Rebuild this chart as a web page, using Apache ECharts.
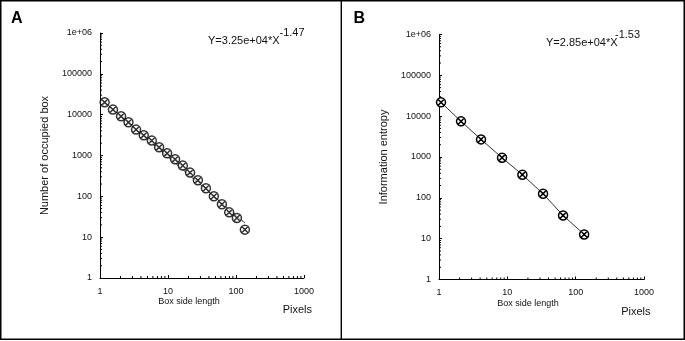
<!DOCTYPE html>
<html>
<head>
<meta charset="utf-8">
<script src="https://cdn.jsdelivr.net/npm/echarts@6/dist/echarts.min.js"></script>
<style>html,body{margin:0;padding:0;background:#fff;}#c{width:685px;height:341px;}</style>
</head>
<body>
<div id="c"></div>
<script>
// ---- data ----
var xA = [1.17, 1.55, 2.04, 2.62, 3.39, 4.40, 5.77, 7.40, 9.7, 12.7, 16.5, 21.1, 27.5, 36.1, 47.2, 62.0, 79.4, 103, 135];
var yA = [20100, 13300, 9140, 6510, 4310, 3125, 2318, 1589, 1132, 807, 565, 381, 247, 157, 100, 63.7, 40.5, 29.6, 15.3];
var fitAx = [1.17, 135];
var fitAy = [20100, 22.3];
var xB = [1.07, 2.1, 4.12, 8.36, 16.6, 33.3, 65.4, 133];
var yB = [21800, 7460, 2700, 961, 368, 126, 37, 12.7];

var xTickValues = [1, 10, 100, 1000];
var xTickLabels = ['1', '10', '100', '1000'];
var yTickValues = [1, 10, 100, 1000, 10000, 100000, 1000000];
var yTickLabels = ['1', '10', '100', '1000', '10000', '100000', '1e+06'];
var xMinorTicks = [2,3,4,5,6,7,8,9,20,30,40,50,60,70,80,90,200,300,400,500,600,700,800,900];
var yMinorTicks = [2,3,4,5,6,7,8,9,20,30,40,50,60,70,80,90,200,300,400,500,600,700,800,900,
  2000,3000,4000,5000,6000,7000,8000,9000,20000,30000,40000,50000,60000,70000,80000,90000,
  200000,300000,400000,500000,600000,700000,800000,900000];

var eqA = ['Y=3.25e+04*X', '-1.47'];
var eqB = ['Y=2.85e+04*X', '-1.53'];
var yTitleA = 'Number of occupied box';
var yTitleB = 'Information entropy';
var xTitle = 'Box side length';
var unitTitle = 'Pixels';

// ---- helpers ----
function pairs(xs, ys) { return xs.map(function (x, i) { return [x, ys[i]]; }); }
function lab(values, labels) {
  return function (v) {
    for (var i = 0; i < values.length; i++) {
      if (Math.abs(Math.log10(v) - Math.log10(values[i])) < 1e-6) return labels[i];
    }
    return '';
  };
}
var FONT = '"Liberation Sans", Arial, sans-serif';
var TXT = '#111';
var marker = 'path://M0.5,5A4.5,4.5 0 1 1 9.5,5A4.5,4.5 0 1 1 0.5,5Z M1.9,1.9L8.1,8.1M8.1,1.9L1.9,8.1';
var markerStyle = { color: '#fff', borderColor: '#000', borderWidth: 1.5 };

function xAxisCfg(gi) {
  return {
    type: 'log', logBase: 10, min: 1, max: 1000, gridIndex: gi, splitNumber: 3,
    axisLine: { show: true, lineStyle: { color: '#000', width: 1 } },
    axisTick: { show: true, inside: true, length: 3, lineStyle: { color: '#000' } },
    axisLabel: { margin: 9, fontSize: 9, color: TXT, fontFamily: FONT, formatter: lab(xTickValues, xTickLabels) },
    splitLine: { show: false }
  };
}
function yAxisCfg(gi, name) {
  return {
    type: 'log', logBase: 10, min: 1, max: 1000000, gridIndex: gi, splitNumber: 6,
    name: name, nameLocation: 'middle', nameGap: 50,
    nameTextStyle: { fontSize: 11, color: TXT, fontFamily: FONT },
    axisLine: { show: true, lineStyle: { color: '#000', width: 1 } },
    axisTick: { show: true, inside: true, length: 3, lineStyle: { color: '#000' } },
    axisLabel: { margin: 8, fontSize: 9, color: TXT, fontFamily: FONT, formatter: lab(yTickValues, yTickLabels) },
    splitLine: { show: false }
  };
}
function minorSeries(gi, vals, horizontal) {
  return {
    type: 'custom', xAxisIndex: gi, yAxisIndex: gi, silent: true, clip: false,
    data: vals.map(function (v) { return horizontal ? [v, 1] : [1, v]; }),
    renderItem: function (params, api) {
      var p = api.coord([api.value(0), api.value(1)]);
      var shape = horizontal
        ? { x1: p[0], y1: p[1], x2: p[0], y2: p[1] - 2 }
        : { x1: p[0], y1: p[1], x2: p[0] + 2, y2: p[1] };
      return { type: 'line', shape: shape, style: { stroke: '#000', lineWidth: 1 } };
    },
    z: 1
  };
}

var chart = echarts.init(document.getElementById('c'), null, { renderer: 'canvas' });
chart.setOption({
  backgroundColor: '#fff',
  animation: false,
  grid: [
    { left: 100, top: 33, width: 204, height: 245 },
    { left: 439, top: 34.5, width: 205, height: 245 }
  ],
  xAxis: [xAxisCfg(0), xAxisCfg(1)],
  yAxis: [yAxisCfg(0, yTitleA), yAxisCfg(1, yTitleB)],
  series: [
    minorSeries(0, xMinorTicks, true),
    minorSeries(0, yMinorTicks, false),
    minorSeries(1, xMinorTicks, true),
    minorSeries(1, yMinorTicks, false),
    {
      type: 'line', xAxisIndex: 0, yAxisIndex: 0, data: pairs(fitAx, fitAy),
      showSymbol: false, lineStyle: { color: '#000', width: 0.8 }, z: 2, silent: true
    },
    {
      type: 'scatter', xAxisIndex: 0, yAxisIndex: 0, data: pairs(xA, yA),
      symbol: marker, symbolSize: 9, itemStyle: markerStyle, z: 3, silent: true
    },
    {
      type: 'line', xAxisIndex: 1, yAxisIndex: 1, data: pairs(xB, yB),
      symbol: marker, symbolSize: 9, showAllSymbol: true, itemStyle: markerStyle,
      lineStyle: { color: '#000', width: 0.8 }, z: 3, silent: true
    }
  ],
  graphic: [
    { type: 'rect', shape: { x: 0.75, y: 0.75, width: 683.5, height: 338.6 }, style: { fill: 'none', stroke: '#000', lineWidth: 1.5 }, z: 100 },
    { type: 'line', shape: { x1: 341.3, y1: 0, x2: 341.3, y2: 340 }, style: { stroke: '#000', lineWidth: 1.4 }, z: 100 },
    { type: 'text', x: 11, y: 18.5, style: { text: 'A', font: 'bold 16px ' + FONT, fill: '#000', textVerticalAlign: 'middle' } },
    { type: 'text', x: 353.5, y: 19, style: { text: 'B', font: 'bold 16px ' + FONT, fill: '#000', textVerticalAlign: 'middle' } },
    { type: 'text', x: 208, y: 41, style: { text: eqA[0], font: '11px ' + FONT, fill: TXT, textVerticalAlign: 'middle' } },
    { type: 'text', x: 279.5, y: 33, style: { text: eqA[1], font: '11px ' + FONT, fill: TXT, textVerticalAlign: 'middle' } },
    { type: 'text', x: 546, y: 43, style: { text: eqB[0], font: '11px ' + FONT, fill: TXT, textVerticalAlign: 'middle' } },
    { type: 'text', x: 615, y: 34.5, style: { text: eqB[1], font: '11px ' + FONT, fill: TXT, textVerticalAlign: 'middle' } },
    { type: 'text', x: 189, y: 302, style: { text: xTitle, font: '9px ' + FONT, fill: TXT, textAlign: 'center', textVerticalAlign: 'middle' } },
    { type: 'text', x: 528, y: 304, style: { text: xTitle, font: '9px ' + FONT, fill: TXT, textAlign: 'center', textVerticalAlign: 'middle' } },
    { type: 'text', x: 312, y: 309.5, style: { text: unitTitle, font: '11px ' + FONT, fill: TXT, textAlign: 'right', textVerticalAlign: 'middle' } },
    { type: 'text', x: 650.5, y: 311.5, style: { text: unitTitle, font: '11px ' + FONT, fill: TXT, textAlign: 'right', textVerticalAlign: 'middle' } }
  ]
});
</script>
</body>
</html>
